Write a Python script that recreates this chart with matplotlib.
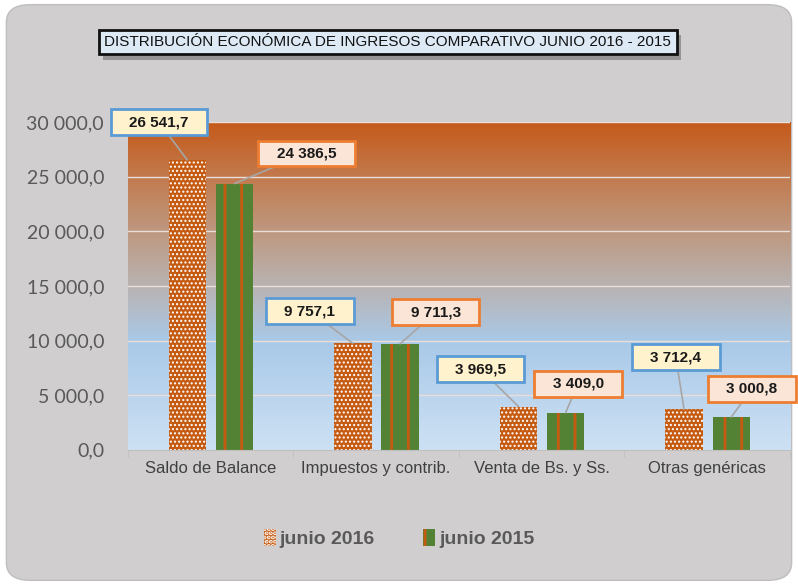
import numpy as np
import matplotlib
matplotlib.use('Agg')
import matplotlib.pyplot as plt
import matplotlib.patheffects as pe
from matplotlib.colors import LinearSegmentedColormap
from matplotlib.patches import FancyBboxPatch, Patch

categorias = ['Saldo de Balance', 'Impuestos y contrib.', 'Venta de Bs. y Ss.', 'Otras genéricas']
junio_2016 = [26541.7, 9757.1, 3969.5, 3712.4]
junio_2015 = [24386.5, 9711.3, 3409.0, 3000.8]
series = ['junio 2016', 'junio 2015']
titulo = 'DISTRIBUCIÓN ECONÓMICA DE INGRESOS COMPARATIVO JUNIO 2016 - 2015'

# label box positions (x in category units, y in data units)
pos16 = [(-0.31, 30000), (0.60, 12700), (1.63, 7400), (2.81, 8500)]
pos15 = [(0.58, 27150), (1.36, 12600), (2.22, 6050), (3.27, 5600)]

narrow = ['Liberation Sans', 'DejaVu Sans']

def fmt(v):
    s = '{:,.1f}'.format(v)
    return s.replace(',', ' ').replace('.', ',')

fig = plt.figure(figsize=(7.98, 5.85), dpi=100, facecolor='white')
bg = FancyBboxPatch((0.008, 0.008), 0.984, 0.984, boxstyle='round,pad=0,rounding_size=0.03',
                    transform=fig.transFigure, facecolor='#d0cecf', edgecolor='#bfbdbe', lw=1,
                    zorder=-10)
fig.patches.append(bg)

ax = fig.add_axes([0.160, 0.231, 0.830, 0.560])
ax.set_facecolor('none')
ax.set_zorder(1)

# gradient background
cmap = LinearSegmentedColormap.from_list('g', [(0.0, '#cde1f4'), (0.33, '#a9c9e8'),
                                               (0.5, '#b9b3b2'), (0.75, '#c08a67'), (1.0, '#c55a1a')])
grad = np.linspace(0, 1, 256).reshape(-1, 1)
ax.imshow(grad, cmap=cmap, origin='lower', aspect='auto', extent=[-0.5, 3.5, 0, 30000], zorder=0)

for yv in range(5000, 30001, 5000):
    ax.axhline(yv, color='#eadfd8', lw=1, zorder=1)

x = np.arange(len(categorias))
w = 0.225
plt.rcParams['hatch.linewidth'] = 1.0
b16 = ax.bar(x - 0.14, junio_2016, w, color='#c55a11', edgecolor='white', hatch='....', lw=0, zorder=2)
plt.rcParams['hatch.linewidth'] = 2.0
b15 = ax.bar(x + 0.145, junio_2015, w, color='#548235', edgecolor='#c55a11', hatch='|', lw=0, zorder=2)

box_kw = dict(boxstyle='square,pad=1.2', mutation_aspect=0.32, lw=2)
for i in range(len(categorias)):
    ax.annotate(fmt(junio_2016[i]), xy=(x[i] - 0.14, junio_2016[i]), xytext=pos16[i],
                ha='center', va='center', fontsize=11, fontweight='bold', family=narrow, color='#1a1a1a',
                bbox=dict(fc='#fff2cc', ec='#5b9bd5', **box_kw),
                arrowprops=dict(arrowstyle='-', color='#a6a6a6', lw=1.2, shrinkA=0, shrinkB=0),
                zorder=5, annotation_clip=False)
    ax.annotate(fmt(junio_2015[i]), xy=(x[i] + 0.145, junio_2015[i]), xytext=pos15[i],
                ha='center', va='center', fontsize=11, fontweight='bold', family=narrow, color='#1a1a1a',
                bbox=dict(fc='#fbe5d6', ec='#ed7d31', **box_kw),
                arrowprops=dict(arrowstyle='-', color='#a6a6a6', lw=1.2, shrinkA=0, shrinkB=0),
                zorder=5, annotation_clip=False)

ax.set_xlim(-0.5, 3.5)
ax.set_ylim(0, 30000)
ax.set_yticks(range(0, 30001, 5000))
ax.set_yticklabels([fmt(v) for v in range(0, 30001, 5000)], fontsize=14, color='#595959', family='Lato')
ax.set_xticks(x)
ax.set_xticklabels(categorias, fontsize=12, color='#404040', family=narrow)
ax.set_xticks(np.arange(-0.5, 3.6, 1), minor=True)
ax.tick_params(axis='x', which='major', length=0, pad=8)
ax.tick_params(axis='x', which='minor', length=5, color='#bfbfbf')
ax.tick_params(axis='y', length=0, pad=17)
for s in ['top', 'right', 'left']:
    ax.spines[s].set_visible(False)
ax.spines['bottom'].set_color('#bfbfbf')

# title with drop shadow
t = fig.text(0.486, 0.928, titulo, ha='center', va='center', fontsize=11, family=narrow, color='#111111',
             bbox=dict(boxstyle='square,pad=0.35', fc='#dde9f5', ec='#111111', lw=2))
t.get_bbox_patch().set_path_effects([pe.SimplePatchShadow(offset=(3, -4), shadow_rgbFace='#6f6f6f', alpha=0.6),
                                     pe.Normal()])

plt.rcParams['hatch.linewidth'] = 1.0
h16 = Patch(facecolor='#c55a11', edgecolor='white', hatch='....', lw=0)
plt.rcParams['hatch.linewidth'] = 2.0
h15 = Patch(facecolor='#548235', edgecolor='#c55a11', hatch='|', lw=0)
fig.legend([h16, h15], series, loc='center', bbox_to_anchor=(0.5, 0.08), ncol=2, frameon=False,
           prop=dict(family=narrow, weight='bold', size=14), labelcolor='#595959',
           handlelength=0.6, handleheight=1.0, handletextpad=0.2, columnspacing=2.5)

fig.savefig('out.png', dpi=100, facecolor=fig.get_facecolor())
